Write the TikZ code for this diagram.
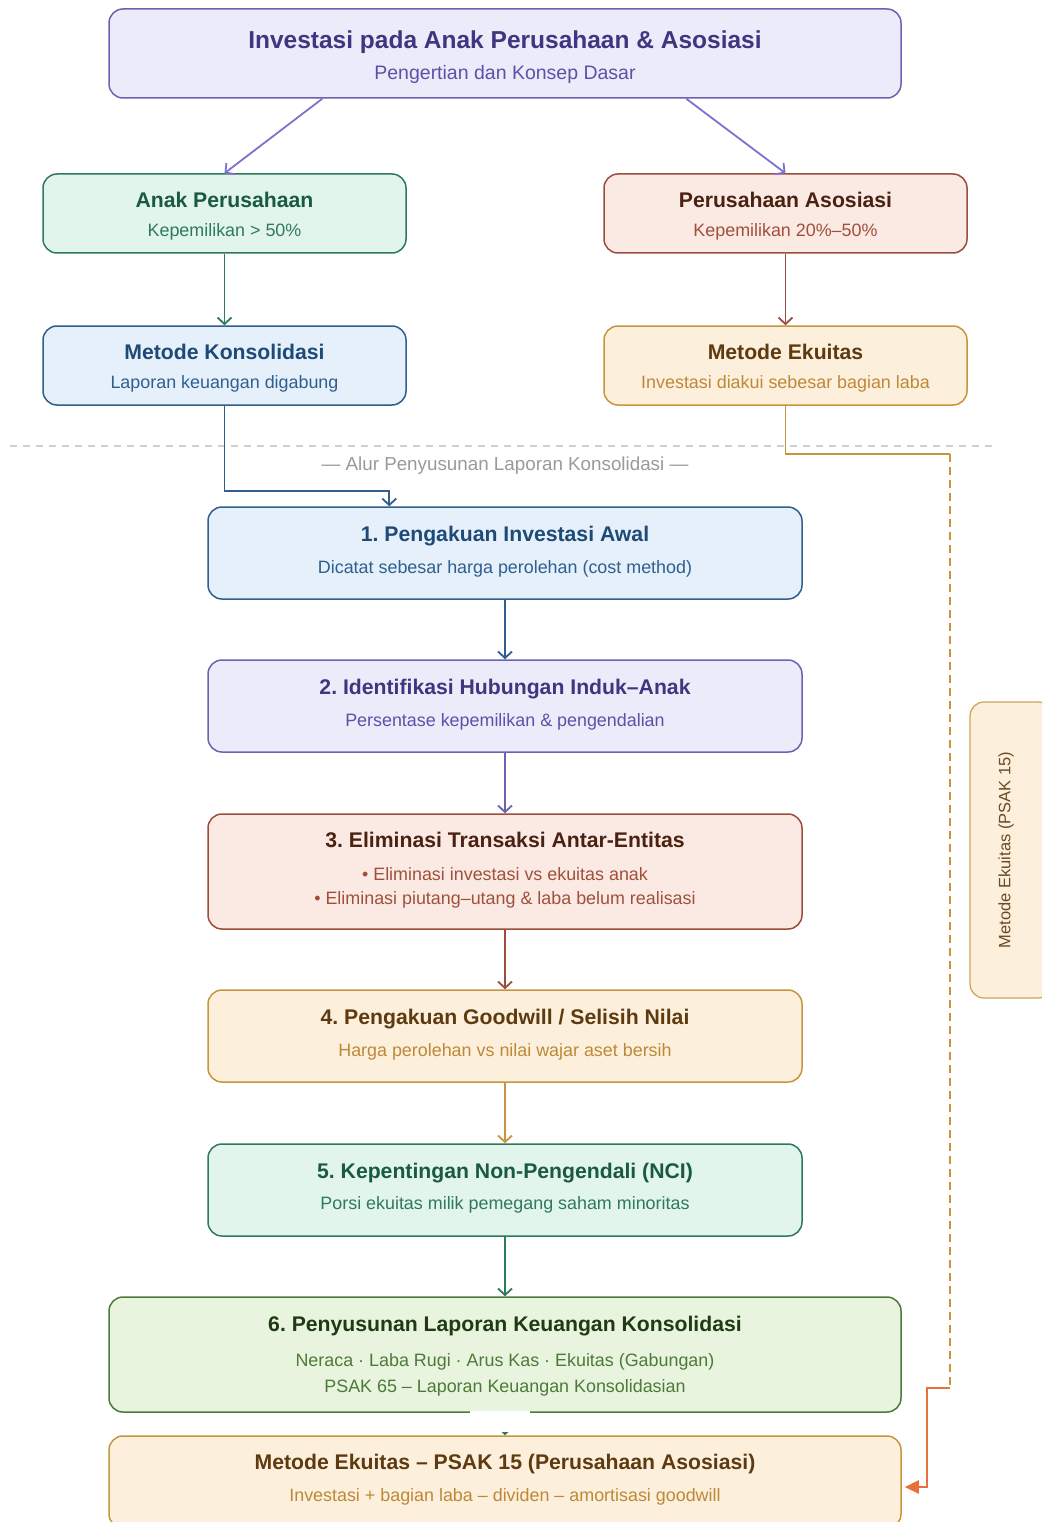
\documentclass[tikz,border=0pt]{standalone}
\usepackage{fontspec}
\setmainfont{Liberation Sans}
\usetikzlibrary{arrows.meta,calc}
\definecolor{pFill}{HTML}{ECEBFA}\definecolor{pDraw}{HTML}{6A63B0}\definecolor{pTtl}{HTML}{3D3680}\definecolor{pSub}{HTML}{5A52A8}\definecolor{pArr}{HTML}{7D72CC}
\definecolor{gFill}{HTML}{E2F5EC}\definecolor{gDraw}{HTML}{2F7A5A}\definecolor{gTtl}{HTML}{1A5A3E}\definecolor{gSub}{HTML}{2F7A5A}
\definecolor{rFill}{HTML}{FBEAE4}\definecolor{rDraw}{HTML}{9A4E3C}\definecolor{rTtl}{HTML}{4A2212}\definecolor{rSub}{HTML}{A0503A}
\definecolor{bFill}{HTML}{E5F0FA}\definecolor{bDraw}{HTML}{2F5F8F}\definecolor{bTtl}{HTML}{1E4A78}\definecolor{bSub}{HTML}{2F5F8F}
\definecolor{oFill}{HTML}{FCF0DC}\definecolor{oDraw}{HTML}{C8953F}\definecolor{oTtl}{HTML}{5E3A10}\definecolor{oSub}{HTML}{BE8838}
\definecolor{lFill}{HTML}{E8F4DD}\definecolor{lDraw}{HTML}{4D7A3A}\definecolor{lTtl}{HTML}{1F3A14}\definecolor{lSub}{HTML}{4D7A3A}
\definecolor{sepCol}{HTML}{D0D0D0}\definecolor{lblCol}{HTML}{9A9A9A}\definecolor{hotArr}{HTML}{E8703A}\definecolor{tabTxt}{HTML}{6B4A25}
\frenchspacing
\begin{document}
\frenchspacing
\begin{tikzpicture}[x=1pt,y=-1pt,
  box/.style={draw, rounded corners=14pt, line width=1.5pt, inner sep=0pt},
  ttl/.style={font=\fontsize{21.2}{24}\selectfont\bfseries, inner sep=0pt, yshift=-0.5pt},
  bigttl/.style={font=\fontsize{24.5}{28}\selectfont\bfseries, inner sep=0pt, yshift=-2.5pt},
  sub/.style={font=\fontsize{17.9}{21}\selectfont, inner sep=0pt, yshift=-1.5pt},
  arr/.style={line width=1.8pt, -{Straight Barb[length=6.5pt,width=14pt,line width=1.8pt]}},
]
\useasboundingbox (0,0) rectangle (1041,1522);
\fill[white] (0,0) rectangle (1041,1522);

% separator
\draw[sepCol, line width=1.2pt, dash pattern=on 7pt off 6pt] (10,446) -- (995,446);
\node[sub, text=lblCol, font=\fontsize{18.8}{22}\selectfont] (seplbl) at (505,464) {— Alur Penyusunan Laporan Konsolidasi —};

% top
\node[box, fill=pFill, draw=pDraw, minimum width=792pt, minimum height=89pt] (top) at (505,53.5) {};
\node[bigttl, text=pTtl] (topT) at (505,40) {Investasi pada Anak Perusahaan \& Asosiasi};
\node[sub, text=pSub, font=\fontsize{19.5}{23}\selectfont] (topS) at (505,73) {Pengertian dan Konsep Dasar};

% level 2
\node[box, fill=gFill, draw=gDraw, minimum width=363pt, minimum height=79pt] (anak) at (224.5,213.5) {};
\node[ttl, text=gTtl] (anakT) at (224.5,199) {Anak Perusahaan};
\node[sub, text=gSub] (anakS) at (224.5,230) {Kepemilikan > 50\%};

\node[box, fill=rFill, draw=rDraw, minimum width=363pt, minimum height=79pt] (asos) at (785.5,213.5) {};
\node[ttl, text=rTtl] (asosT) at (785.5,199) {Perusahaan Asosiasi};
\node[sub, text=rSub] (asosS) at (785.5,230) {Kepemilikan 20\%–50\%};

% level 3
\node[box, fill=bFill, draw=bDraw, minimum width=363pt, minimum height=79pt] (kons) at (224.5,365.5) {};
\node[ttl, text=bTtl] (konsT) at (224.5,351) {Metode Konsolidasi};
\node[sub, text=bSub] (konsS) at (224.5,382) {Laporan keuangan digabung};

\node[box, fill=oFill, draw=oDraw, minimum width=363pt, minimum height=79pt] (ekui) at (785.5,365.5) {};
\node[ttl, text=oTtl] (ekuiT) at (785.5,351) {Metode Ekuitas};
\node[sub, text=oSub] (ekuiS) at (785.5,382) {Investasi diakui sebesar bagian laba};

% flow boxes
\node[box, fill=bFill, draw=bDraw, minimum width=594pt, minimum height=92pt] (b1) at (505,553) {};
\node[ttl, text=bTtl] (b1T) at (505,536) {1. Pengakuan Investasi Awal};
\node[sub, text=bSub] (b1S) at (505,567) {Dicatat sebesar harga perolehan (cost method)};

\node[box, fill=pFill, draw=pDraw, minimum width=594pt, minimum height=92pt] (b2) at (505,706) {};
\node[ttl, text=pTtl] (b2T) at (505,689) {2. Identifikasi Hubungan Induk–Anak};
\node[sub, text=pSub] (b2S) at (505,720) {Persentase kepemilikan \& pengendalian};

\node[box, fill=rFill, draw=rDraw, minimum width=594pt, minimum height=115pt] (b3) at (505,871.5) {};
\node[ttl, text=rTtl] (b3T) at (505,839) {3. Eliminasi Transaksi Antar-Entitas};
\node[sub, text=rSub] (b3S) at (505,873) {• Eliminasi investasi vs ekuitas anak};
\node[sub, text=rSub] (b3U) at (505,898) {• Eliminasi piutang–utang \& laba belum realisasi};

\node[box, fill=oFill, draw=oDraw, minimum width=594pt, minimum height=92pt] (b4) at (505,1036) {};
\node[ttl, text=oTtl] (b4T) at (505,1019) {4. Pengakuan Goodwill / Selisih Nilai};
\node[sub, text=oSub] (b4S) at (505,1050) {Harga perolehan vs nilai wajar aset bersih};

\node[box, fill=gFill, draw=gDraw, minimum width=594pt, minimum height=92pt] (b5) at (505,1190) {};
\node[ttl, text=gTtl] (b5T) at (505,1173) {5. Kepentingan Non-Pengendali (NCI)};
\node[sub, text=gSub] (b5S) at (505,1203) {Porsi ekuitas milik pemegang saham minoritas};

\node[box, fill=lFill, draw=lDraw, minimum width=792pt, minimum height=115pt] (b6) at (505,1354.5) {};
\node[ttl, text=lTtl] (b6T) at (505,1326) {6. Penyusunan Laporan Keuangan Konsolidasi};
\node[sub, text=lSub] (b6S) at (505,1360) {Neraca · Laba Rugi · Arus Kas · Ekuitas (Gabungan)};
\node[sub, text=lSub] (b6U) at (505,1386) {PSAK 65 – Laporan Keuangan Konsolidasian};

\node[box, fill=oFill, draw=oDraw, minimum width=792pt, minimum height=92pt] (bot) at (505,1482) {};
\node[ttl, text=oTtl] (botT) at (505,1464) {Metode Ekuitas – PSAK 15 (Perusahaan Asosiasi)};
\node[sub, text=oSub] (botS) at (505,1495) {Investasi + bagian laba – dividen – amortisasi goodwill};

% side tab
\node[box, fill=oFill, draw=oDraw!85!white, line width=1.3pt, minimum width=82pt, minimum height=296pt] (tab) at (1011,850) {};
\node[text=tabTxt, font=\fontsize{16.5}{19}\selectfont, inner sep=0pt, rotate=90] (tabT) at (1006,850) {Metode Ekuitas (PSAK 15)};

% connectors top
\draw[arr, pArr] ($(top.south west)+(214,0)$) -- (anak.north);
\draw[arr, pArr] ($(top.south west)+(578,0)$) -- (asos.north);
\draw[arr, gDraw] (anak.south) -- (kons.north);
\draw[arr, rDraw] (asos.south) -- (ekui.north);

% konsolidasi to flow
\draw[arr, bDraw] (kons.south) -- ++(0,85) -| ($(b1.north west)+(182,0)$);

% flow arrows
\draw[arr, bDraw] (b1.south) -- (b2.north);
\draw[arr, pDraw] (b2.south) -- (b3.north);
\draw[arr, rDraw] (b3.south) -- (b4.north);
\draw[arr, oDraw] (b4.south) -- (b5.north);
\draw[arr, gDraw] (b5.south) -- (b6.north);
\draw[arr, gDraw] (b6.south) -- (bot.north);
\fill[white] (470,1411) rectangle (530,1432);

% ekuitas dashed route
\coordinate (r1) at (950,454);
\coordinate (r2) at (950,1388);
\coordinate (r3) at (927,1388);
\coordinate (r4) at (927,1487);
\draw[oDraw, line width=1.8pt] (ekui.south) |- (r1);
\draw[oDraw, line width=1.6pt, dash pattern=on 8pt off 5pt] (r1) -- (r2);
\draw[hotArr, line width=2pt, -{Triangle[length=14pt,width=13pt]}, shorten >=3pt] (r2) -- (r3) -- (r4) -- (r4 -| bot.east);
\end{tikzpicture}
\end{document}
